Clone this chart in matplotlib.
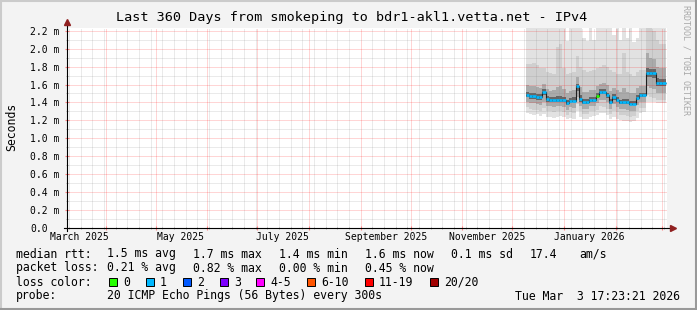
import numpy as np
import pandas as pd
import matplotlib
matplotlib.use("Agg")
import matplotlib.pyplot as plt
import matplotlib.dates as mdates
from matplotlib.ticker import MultipleLocator
from matplotlib.patches import Rectangle
from matplotlib.lines import Line2D
from datetime import datetime, timedelta

plt.rcParams["font.family"] = ["DejaVu Sans Mono"]

W, H = 697, 310
END_TIME = datetime(2026, 3, 3, 17, 23, 21)
START_TIME = END_TIME - timedelta(days=360)

TITLE = "Last 360 Days from smokeping to bdr1-akl1.vetta.net - IPv4"

# 2-day consolidated samples (ms), data only exists from Dec 2025
sample_dates = pd.date_range("2025-12-09", periods=42, freq="2D")
median_rtt = [1.486, 1.467, 1.467, 1.46, 1.46, 1.52, 1.44, 1.43, 1.43, 1.43, 1.43, 1.43, 1.39, 1.42,
              1.42, 1.58, 1.44, 1.40, 1.40, 1.43, 1.43, 1.47, 1.52, 1.52, 1.48, 1.40, 1.46, 1.43,
              1.40, 1.40, 1.40, 1.385, 1.385, 1.45, 1.48, 1.48, 1.73, 1.73, 1.73, 1.62, 1.62, 1.62]
loss_count = [1, 1, 1, 1, 1, 1, 1, 1, 1, 1, 1, 1, 1, 1, 1, 1, 1, 1, 1, 1, 1, 0, 1, 1, 1, 1, 1, 1,
              1, 1, 1, 1, 1, 1, 1, 1, 1, 1, 1, 1, 1, 1]

# smoke: ping rank envelopes (slowest .. fastest)
ping_max = [2.30, 2.30, 2.30, 2.30, 2.30, 2.30, 2.30, 2.30, 2.30, 2.30, 2.30, 2.30, 2.09, 2.30,
            2.30, 2.30, 2.30, 2.12, 2.08, 2.30, 2.10, 2.30, 2.30, 2.30, 2.30, 2.30, 2.15, 2.30,
            2.10, 2.30, 2.12, 2.30, 2.07, 2.12, 2.30, 2.30, 2.30, 2.30, 2.30, 2.30, 2.30, 2.30]
ping_hi3 = [1.83, 1.83, 1.84, 1.82, 1.78, 1.78, 1.74, 1.73, 1.72, 2.02, 2.05, 1.78, 1.72, 1.73,
            1.74, 1.92, 1.80, 1.76, 1.74, 1.75, 1.76, 1.78, 1.80, 1.82, 1.80, 1.76, 1.74, 1.72,
            1.72, 1.95, 1.74, 1.72, 1.70, 1.74, 1.76, 1.76, 2.30, 2.25, 2.20, 2.10, 2.05, 2.05]
ping_hi2 = [1.60, 1.58, 1.58, 1.57, 1.56, 1.61, 1.55, 1.53, 1.54, 1.57, 1.58, 1.55, 1.51, 1.53,
            1.54, 1.68, 1.57, 1.52, 1.52, 1.54, 1.54, 1.58, 1.61, 1.62, 1.59, 1.53, 1.56, 1.54,
            1.52, 1.56, 1.52, 1.50, 1.50, 1.56, 1.58, 1.58, 1.95, 1.90, 1.88, 1.80, 1.78, 1.78]
ping_hi1 = [1.52, 1.50, 1.50, 1.49, 1.49, 1.55, 1.47, 1.46, 1.46, 1.47, 1.47, 1.46, 1.43, 1.45,
            1.46, 1.61, 1.48, 1.44, 1.44, 1.46, 1.46, 1.50, 1.55, 1.55, 1.51, 1.44, 1.49, 1.46,
            1.43, 1.44, 1.44, 1.42, 1.42, 1.48, 1.51, 1.51, 1.78, 1.77, 1.77, 1.67, 1.66, 1.66]
ping_lo1 = [1.46, 1.44, 1.44, 1.43, 1.43, 1.48, 1.41, 1.41, 1.41, 1.41, 1.41, 1.41, 1.37, 1.40,
            1.40, 1.53, 1.41, 1.38, 1.38, 1.41, 1.41, 1.45, 1.49, 1.49, 1.45, 1.38, 1.43, 1.41,
            1.38, 1.38, 1.38, 1.37, 1.37, 1.43, 1.46, 1.46, 1.68, 1.68, 1.67, 1.58, 1.58, 1.58]
ping_lo2 = [1.41, 1.39, 1.39, 1.38, 1.37, 1.41, 1.36, 1.36, 1.35, 1.36, 1.36, 1.35, 1.32, 1.35,
            1.34, 1.46, 1.36, 1.33, 1.33, 1.36, 1.36, 1.39, 1.43, 1.43, 1.40, 1.33, 1.38, 1.35,
            1.33, 1.33, 1.32, 1.31, 1.31, 1.37, 1.40, 1.40, 1.58, 1.56, 1.55, 1.50, 1.50, 1.50]
ping_lo3 = [1.35, 1.33, 1.32, 1.32, 1.31, 1.34, 1.30, 1.30, 1.29, 1.30, 1.30, 1.29, 1.26, 1.29,
            1.28, 1.38, 1.30, 1.27, 1.27, 1.30, 1.30, 1.32, 1.36, 1.35, 1.33, 1.27, 1.31, 1.29,
            1.26, 1.26, 1.25, 1.24, 1.25, 1.30, 1.34, 1.34, 1.48, 1.46, 1.45, 1.43, 1.43, 1.43]
ping_min = [1.28, 1.27, 1.26, 1.27, 1.25, 1.27, 1.24, 1.24, 1.23, 1.24, 1.25, 1.24, 1.21, 1.23,
            1.22, 1.30, 1.24, 1.21, 1.22, 1.24, 1.25, 1.26, 1.28, 1.28, 1.26, 1.21, 1.24, 1.22,
            1.20, 1.19, 1.19, 1.18, 1.19, 1.23, 1.28, 1.29, 1.40, 1.40, 1.40, 1.39, 1.39, 1.39]

y_ticks = [0.0, 0.2, 0.4, 0.6, 0.8, 1.0, 1.2, 1.4, 1.6, 1.8, 2.0, 2.2]
y_labels = ["0.0", "0.2 m", "0.4 m", "0.6 m", "0.8 m", "1.0 m", "1.2 m", "1.4 m",
            "1.6 m", "1.8 m", "2.0 m", "2.2 m"]
x_label_months = [datetime(2025, 3, 1), datetime(2025, 5, 1), datetime(2025, 7, 1),
                  datetime(2025, 9, 1), datetime(2025, 11, 1), datetime(2026, 1, 1)]
x_labels = ["March 2025", "May 2025", "July 2025", "September 2025", "November 2025", "January 2026"]

rtt_stats = ["1.5 ms avg", "1.7 ms max", "1.4 ms min", "1.6 ms now", "0.1 ms sd", "17.4", "am/s"]
loss_stats = ["0.21 % avg", "0.82 % max", "0.00 % min", "0.45 % now"]
loss_labels = ["0", "1", "2", "3", "4-5", "6-10", "11-19", "20/20"]
loss_colors = ["#26ff00", "#00b8ff", "#0059ff", "#7e00ff", "#ff00ff", "#ff5500", "#ff0000", "#a10000"]
probe_text = "20 ICMP Echo Pings (56 Bytes) every 300s"
stamp_text = "Tue Mar  3 17:23:21 2026"

fig = plt.figure(figsize=(W / 100, H / 100), dpi=100, facecolor="#f3f3f3")
ax = fig.add_axes([67 / W, 82 / H, 600 / W, 200 / H])
ax.set_facecolor("white")

edges = mdates.date2num(sample_dates.to_pydatetime())
edges = np.append(edges, edges[-1] + 2)

# smoke, outermost to innermost
smoke_bands = [(ping_min, ping_max, "#e2e2e2"), (ping_lo3, ping_hi3, "#cfcfcf"),
               (ping_lo2, ping_hi2, "#aaaaaa"), (ping_lo1, ping_hi1, "#666666")]
for lo, hi, col in smoke_bands:
    ax.stairs(hi, edges, baseline=lo, fill=True, color=col, lw=0, zorder=1)

# median: thin dark line + loss coloured segments
ax.stairs(median_rtt, edges, baseline=None, color="#202020", lw=0.8, zorder=4)
seg_colors = [loss_colors[min(c, 7)] for c in loss_count]
ax.hlines(median_rtt, edges[:-1], edges[1:], colors=seg_colors, lw=1.9, zorder=5)

ax.set_xlim(mdates.date2num(START_TIME), mdates.date2num(END_TIME))
ax.set_ylim(0, 2.23)

ax.xaxis.set_major_locator(mdates.MonthLocator())
ax.xaxis.set_minor_locator(mdates.WeekdayLocator(byweekday=mdates.MO))
ax.yaxis.set_major_locator(MultipleLocator(0.2))
ax.yaxis.set_minor_locator(MultipleLocator(0.1))
ax.set_axisbelow(False)
ax.grid(which="major", color="#ff0000", alpha=0.33, ls=(0, (1, 1)), lw=0.72)
ax.grid(which="minor", color="#808080", alpha=0.33, ls=(0, (1, 1)), lw=0.72)

ax.set_yticks(y_ticks, y_labels)
ax.tick_params(axis="y", which="major", length=3, direction="inout", color="#ff8080",
               labelsize=7, pad=(67 - 30) * 0.72 - 1.5)
for lbl in ax.get_yticklabels():
    lbl.set_ha("left")
ax.tick_params(axis="y", which="minor", length=2, direction="inout", color="#a0a0a0")
ax.tick_params(axis="x", which="major", length=3, direction="inout", color="#ff8080", labelbottom=False)
ax.tick_params(axis="x", which="minor", length=2, direction="inout", color="#a0a0a0")
for s in ax.spines.values():
    s.set_visible(False)

# axis lines with arrows
ax.plot([-0.005, 1.008], [0, 0], color="black", lw=0.8, transform=ax.transAxes, clip_on=False, zorder=6)
ax.plot([0, 0], [-0.015, 1.03], color="black", lw=0.8, transform=ax.transAxes, clip_on=False, zorder=6)
ax.plot([1.01], [0], marker=">", ms=4, color="#902020", transform=ax.transAxes, clip_on=False, zorder=7)
ax.plot([0], [1.03], marker="^", ms=4, color="#902020", transform=ax.transAxes, clip_on=False, zorder=7)

for month, lab in zip(x_label_months, x_labels):
    ax.text(mdates.date2num(month + timedelta(days=15)), -0.045, lab, fontsize=7,
            ha="center", va="center", transform=ax.get_xaxis_transform(), clip_on=False)


def ptext(x, y, s, **kw):
    kw.setdefault("fontsize", 8.3)
    kw.setdefault("va", "center")
    fig.text(x / W, 1 - y / H, s, **kw)


ptext(352, 18, TITLE, fontsize=9.7, ha="center")
ptext(12, 127, "Seconds", rotation=90, ha="center")
ptext(686, 60, "RRDTOOL / TOBI OETIKER", rotation=270, ha="center", fontsize=6, color="#a8a8a8")

# legend
ptext(16, 254, "median rtt:")
for x, s in zip([107, 193, 279, 365, 451, 530, 579], rtt_stats):
    ptext(x, 254, s)
ptext(16, 268, "packet loss:")
for x, s in zip([107, 193, 279, 365], loss_stats):
    ptext(x, 268, s)
ptext(16, 282, "loss color:")
for x, lab, col in zip([109, 146, 183, 220, 256, 307, 365, 430], loss_labels, loss_colors):
    fig.add_artist(Rectangle((x / W, 1 - 286 / H), 8 / W, 8 / H, transform=fig.transFigure,
                             facecolor=col, edgecolor="black", lw=0.7))
    ptext(x + 14, 282, lab)
ptext(16, 296, "probe:")
ptext(107, 296, probe_text)
ptext(680, 296, stamp_text, ha="right")

# 3d frame
fig.add_artist(Line2D([0, 1], [1 - 1 / H, 1 - 1 / H], color="#cbcbcb", lw=1.5, transform=fig.transFigure))
fig.add_artist(Line2D([1 / W, 1 / W], [0, 1], color="#cbcbcb", lw=1.5, transform=fig.transFigure))
fig.add_artist(Line2D([0, 1], [1 / H, 1 / H], color="#999999", lw=1.5, transform=fig.transFigure))
fig.add_artist(Line2D([1 - 1 / W, 1 - 1 / W], [0, 1], color="#999999", lw=1.5, transform=fig.transFigure))

fig.savefig("out.png", dpi=100, facecolor=fig.get_facecolor())
